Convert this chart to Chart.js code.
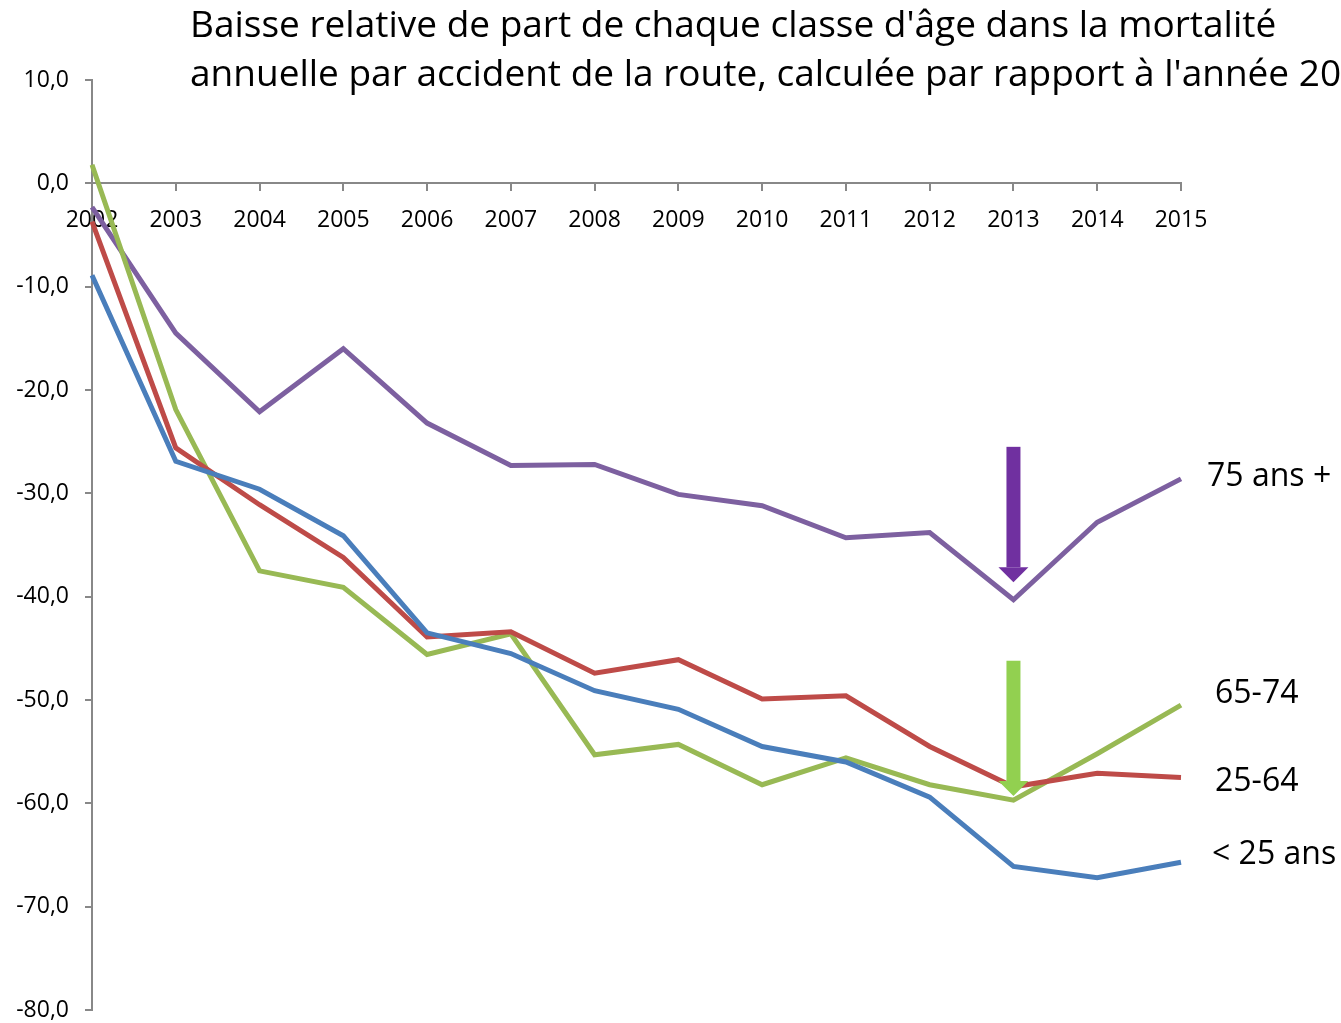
<!DOCTYPE html>
<html>
<head>
    <title>Baisse relative de part de chaque classe d'âge</title>
    <script src="https://cdn.jsdelivr.net/npm/chart.js"></script>
    <style>
        html, body { margin: 0; padding: 0; background: #fff; }
        #wrap { width: 1341px; height: 1023px; position: relative; }
    </style>
</head>
<body>
<div id="wrap"><canvas id="myChart" width="1341" height="1023"></canvas></div>
<script>
    // data
    const years = ['2002','2003','2004','2005','2006','2007','2008','2009','2010','2011','2012','2013','2014','2015'];
    const under25 = [-8.9, -26.9, -29.6, -34.1, -43.5, -45.5, -49.1, -50.9, -54.5, -56.0, -59.4, -66.1, -67.2, -65.7];
    const age25to64 = [-3.7, -25.6, -31.1, -36.2, -43.9, -43.4, -47.4, -46.1, -49.9, -49.6, -54.5, -58.4, -57.1, -57.5];
    const age65to74 = [1.8, -21.9, -37.5, -39.1, -45.6, -43.6, -55.3, -54.3, -58.2, -55.6, -58.2, -59.7, -55.2, -50.5];
    const over75 = [-2.3, -14.5, -22.1, -16.0, -23.2, -27.3, -27.2, -30.1, -31.2, -34.3, -33.8, -40.3, -32.8, -28.6];

    const seriesLabels = ['< 25 ans', '25-64', '65-74', '75 ans +'];
    const labelLevels = [-65.0, -57.9, -49.4, -28.4];   // where the right-hand names sit
    const titleLines = [
        "Baisse relative de part de chaque classe d'âge dans la mortalité",
        "annuelle par accident de la route, calculée par rapport à l'année 2002"
    ];
    // arrows at 2013: [from, to, colour]
    const arrows = [
        [-25.5, -38.6, '#7030A0'],
        [-46.2, -59.3, '#92D050']
    ];

    const FONT = '"Open Sans", Lato, sans-serif';

    const annotations = {
        id: 'annotations',
        afterDatasetsDraw(chart) {
            const ctx = chart.ctx;
            const x = chart.scales.x, y = chart.scales.y;
            ctx.save();
            // arrows
            arrows.forEach(a => {
                const px = x.getPixelForValue(11);
                const y0 = y.getPixelForValue(a[0]);
                const y1 = y.getPixelForValue(a[1]);
                ctx.fillStyle = a[2];
                ctx.fillRect(px - 7, y0, 14, (y1 - y0) - 15);
                ctx.beginPath();
                ctx.moveTo(px - 15, y1 - 15);
                ctx.lineTo(px + 15, y1 - 15);
                ctx.lineTo(px, y1);
                ctx.closePath();
                ctx.fill();
            });
            // series names
            ctx.fillStyle = '#000';
            ctx.font = '32px ' + FONT;
            ctx.textBaseline = 'middle';
            ctx.textAlign = 'left';
            const right = chart.chartArea.right;
            const offs = [31, 34, 34, 26];
            seriesLabels.forEach((s, i) => {
                ctx.fillText(s, right + offs[i], y.getPixelForValue(labelLevels[i]));
            });
            // title
            ctx.font = '37px ' + FONT;
            ctx.fillText(titleLines[0], 190, 26);
            ctx.fillText(titleLines[1], 190, 75);
            ctx.restore();
        }
    };

    function line(label, data, color) {
        return {
            label: label,
            data: data,
            borderColor: color,
            backgroundColor: color,
            borderWidth: 5,
            pointRadius: 0,
            tension: 0,
            fill: false
        };
    }

    new Chart(document.getElementById('myChart'), {
        type: 'line',
        data: {
            labels: years,
            datasets: [
                line('< 25 ans', under25, '#4A7EBB'),
                line('25-64', age25to64, '#BE4B48'),
                line('65-74', age65to74, '#98B954'),
                line('75 ans +', over75, '#7D60A0')
            ]
        },
        options: {
            responsive: false,
            animation: false,
            layout: { padding: { top: 80, right: 160, bottom: 13, left: 0 } },
            plugins: {
                legend: { display: false },
                title: { display: false },
                tooltip: { enabled: false }
            },
            scales: {
                x: {
                    position: { y: 0 },
                    offset: false,
                    afterFit(scale) { scale.height = 0; },
                    grid: { drawOnChartArea: false, drawTicks: true, tickLength: 7, color: '#888', lineWidth: 2 },
                    border: { color: '#888', width: 2 },
                    ticks: {
                        color: '#000',
                        font: { family: FONT, size: 23 },
                        padding: 16,
                        maxRotation: 0,
                        autoSkip: false
                    }
                },
                y: {
                    min: -80,
                    max: 10,
                    afterFit(scale) {
                        scale.width = 92;
                        scale.paddingTop = 0;
                        scale.paddingBottom = 0;
                    },
                    grid: { drawOnChartArea: false, drawTicks: true, tickLength: 7, color: '#888', lineWidth: 2 },
                    border: { color: '#888', width: 2 },
                    ticks: {
                        stepSize: 10,
                        color: '#000',
                        font: { family: FONT, size: 23 },
                        padding: 16,
                        callback: v => v.toFixed(1).replace('.', ',')
                    }
                }
            }
        },
        plugins: [annotations]
    });
</script>
</body>
</html>
